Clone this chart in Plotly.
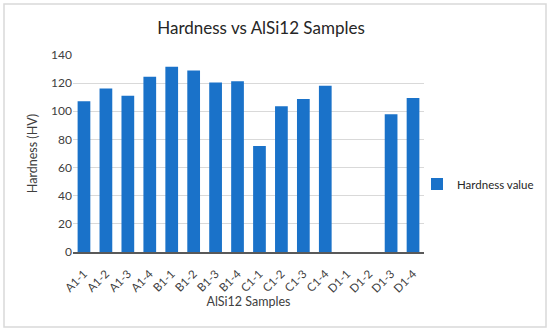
import plotly.graph_objects as go

categories = ["A1-1", "A1-2", "A1-3", "A1-4", "B1-1", "B1-2", "B1-3", "B1-4",
              "C1-1", "C1-2", "C1-3", "C1-4", "D1-1", "D1-2", "D1-3", "D1-4"]
hardness = [107.2, 116.2, 111.0, 124.5, 131.6, 129.0, 120.5, 121.4,
            75.3, 103.6, 108.8, 118.1, None, None, 97.9, 109.5]
y_ticks = [0, 20, 40, 60, 80, 100, 120, 140]

W, H = 550, 331
L, R, T, B = 73, 126, 55, 79
pw, ph = W - L - R, H - T - B

def px(x):
    return (x - L) / pw

def py(y):
    return (H - B - y) / ph

FONT = "Lato, 'Open Sans', sans-serif"

fig = go.Figure()
fig.add_trace(go.Bar(
    x=categories, y=hardness, name="Hardness value",
    marker=dict(color="#1a72c9", line=dict(width=0)),
    showlegend=True,
))

fig.update_layout(
    template="none",
    width=W, height=H,
    margin=dict(l=L, r=R, t=T, b=B, autoexpand=False),
    paper_bgcolor="white", plot_bgcolor="white",
    font=dict(family=FONT, color="#404040", size=12),
    bargap=0.42,
    title=dict(text="Hardness vs AlSi12 Samples", x=px(261), xref="paper", xanchor="center",
               y=1 - 28 / H, yanchor="middle",
               font=dict(size=17, color="#262626", family=FONT)),
    xaxis=dict(
        automargin=False,
        tickangle=-45, showgrid=False, showline=True, linecolor="#595959", linewidth=1.5,
        ticks="", ticklabelstandoff=9, tickfont=dict(size=11.5, color="#404040"),
        title=dict(text="AlSi12 Samples", font=dict(size=12.5, color="#404040"), standoff=2),
    ),
    yaxis=dict(
        automargin=False,
        range=[0, 140], tickvals=y_ticks, showgrid=True, gridcolor="#d9d9d9", gridwidth=1,
        zeroline=False, showline=False, ticks="", tickfont=dict(size=12, color="#404040"),
        title=dict(text="Hardness (HV)", font=dict(size=12.5, color="#404040"), standoff=10),
    ),
    legend=dict(x=px(417), xanchor="left", y=py(184), yanchor="middle",
                font=dict(size=11.5, color="#262626"), itemwidth=30, bgcolor="rgba(0,0,0,0)"),
    shapes=[dict(type="rect", xref="paper", yref="paper",
                 x0=px(4), x1=px(546), y0=py(327), y1=py(4),
                 line=dict(color="#d9d9d9", width=1.5), fillcolor="rgba(0,0,0,0)", layer="below")],
)

fig.write_html("out.html", config={"displayModeBar": False},
               post_script="document.body.style.margin='0';")
